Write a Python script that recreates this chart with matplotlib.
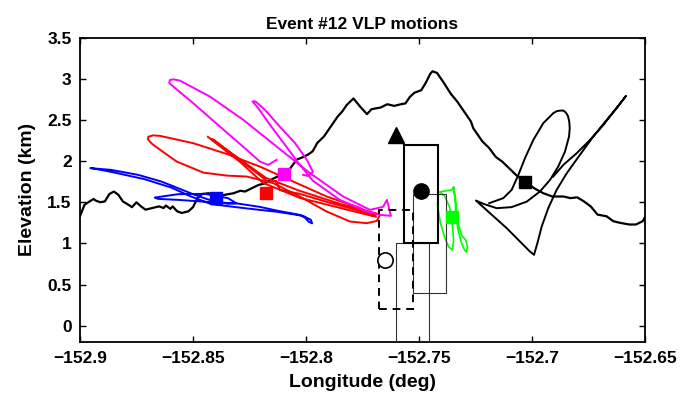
import numpy as np
import matplotlib
matplotlib.use("Agg")
import matplotlib.pyplot as plt
from matplotlib.patches import Rectangle

plt.rcParams["font.family"] = ["Liberation Sans", "DejaVu Sans"]
plt.rcParams["font.weight"] = "bold"

# ---------- Topography profile ----------
topo_lon = [-152.900, -152.898, -152.894, -152.893, -152.891, -152.889, -152.887, -152.885,
            -152.883, -152.881, -152.878, -152.877, -152.875, -152.873, -152.871, -152.868,
            -152.865, -152.863, -152.862, -152.860, -152.859, -152.857, -152.855, -152.852,
            -152.850, -152.848, -152.846, -152.843, -152.841, -152.839, -152.836, -152.832,
            -152.829, -152.827, -152.824, -152.821, -152.818, -152.815, -152.812, -152.807,
            -152.804, -152.802, -152.799, -152.797, -152.795, -152.792, -152.789, -152.786,
            -152.784, -152.782, -152.779, -152.776, -152.773, -152.771, -152.767, -152.764,
            -152.761, -152.758, -152.756, -152.754, -152.752, -152.749, -152.747, -152.745,
            -152.744, -152.742, -152.739, -152.736, -152.733, -152.730, -152.727, -152.726,
            -152.722, -152.719, -152.716, -152.713, -152.710, -152.707, -152.703, -152.699,
            -152.695, -152.691, -152.686, -152.683, -152.680, -152.677, -152.674, -152.671,
            -152.667, -152.664, -152.661, -152.657, -152.654, -152.651, -152.650]
topo_elev = [1.33, 1.47, 1.54, 1.52, 1.50, 1.51, 1.60, 1.63,
             1.59, 1.51, 1.46, 1.44, 1.50, 1.45, 1.41, 1.43,
             1.45, 1.43, 1.46, 1.42, 1.45, 1.39, 1.37, 1.39,
             1.44, 1.55, 1.60, 1.61, 1.58, 1.57, 1.59, 1.61,
             1.64, 1.63, 1.67, 1.71, 1.73, 1.78, 1.82, 1.91,
             2.02, 2.04, 2.08, 2.12, 2.22, 2.30, 2.42, 2.54,
             2.60, 2.68, 2.76, 2.66, 2.57, 2.63, 2.65, 2.69,
             2.67, 2.69, 2.70, 2.78, 2.83, 2.86, 2.95, 3.06,
             3.09, 3.07, 2.95, 2.82, 2.72, 2.60, 2.48, 2.40,
             2.24, 2.16, 2.05, 1.99, 1.91, 1.83, 1.75, 1.67,
             1.61, 1.57, 1.57, 1.55, 1.56, 1.51, 1.45, 1.35,
             1.33, 1.27, 1.25, 1.23, 1.23, 1.27, 1.32]

# ---------- VLP particle motions ----------
blue_lon = [-152.8953, -152.8862, -152.8743, -152.8640, -152.8566, -152.8492, -152.8419,
            -152.8345, -152.8308, -152.8345, -152.8448, -152.8566, -152.8669, -152.8655,
            -152.8566, -152.8419, -152.8308, -152.8204, -152.8124, -152.8027, -152.8004,
            -152.7987, -152.7973, -152.7978, -152.8013, -152.8124, -152.8271, -152.8419,
            -152.8508, -152.8596, -152.8714, -152.8862, -152.8951]
blue_elev = [1.914, 1.893, 1.833, 1.752, 1.671, 1.590, 1.521,
             1.481, 1.487, 1.550, 1.602, 1.598, 1.557, 1.541,
             1.529, 1.501, 1.487, 1.444, 1.396, 1.347, 1.311,
             1.262, 1.244, 1.286, 1.335, 1.383, 1.428, 1.477,
             1.569, 1.678, 1.780, 1.869, 1.915]

red_lon = [-152.8434, -152.8292, -152.8190, -152.8027, -152.7850, -152.7708, -152.7681,
           -152.7850, -152.8027, -152.8177, -152.8301, -152.8420, -152.8407, -152.8270,
           -152.8168, -152.8133, -152.8115, -152.8027, -152.7894, -152.7761, -152.7690,
           -152.7761, -152.7908, -152.8056, -152.8204, -152.8351, -152.8499, -152.8646,
           -152.8677, -152.8698, -152.8699, -152.8690, -152.8676, -152.8572, -152.8454,
           -152.8351, -152.8262, -152.8145, -152.8027, -152.7908, -152.7805, -152.7731,
           -152.7686, -152.7673]
red_elev = [2.294, 1.990, 1.735, 1.553, 1.432, 1.335, 1.359,
            1.481, 1.638, 1.796, 2.039, 2.269, 2.257, 1.966,
            1.748, 1.760, 1.650, 1.602, 1.493, 1.396, 1.323,
            1.432, 1.569, 1.751, 1.933, 2.087, 2.217, 2.306,
            2.312, 2.295, 2.265, 2.233, 2.197, 1.994, 1.860,
            1.824, 1.812, 1.732, 1.569, 1.387, 1.266, 1.246,
            1.274, 1.347]

magenta_lon = [-152.8130, -152.8167, -152.8204, -152.8262, -152.8381, -152.8499, -152.8587,
               -152.8605, -152.8602, -152.8585, -152.8558, -152.8425, -152.8277, -152.8130,
               -152.7982, -152.7835, -152.7717, -152.7659, -152.7642, -152.7624, -152.7673,
               -152.7726, -152.7850, -152.7969, -152.8027, -152.8093, -152.8159, -152.8212,
               -152.8236, -152.8230, -152.8221, -152.8181, -152.8115, -152.8049, -152.7996,
               -152.7969, -152.7991, -152.8013]
magenta_elev = [2.015, 1.954, 1.994, 2.136, 2.419, 2.703, 2.904,
                2.950, 2.985, 2.992, 2.977, 2.783, 2.500, 2.176,
                1.853, 1.569, 1.408, 1.444, 1.529, 1.335, 1.347,
                1.383, 1.529, 1.760, 1.954, 2.197, 2.439, 2.646,
                2.722, 2.728, 2.718, 2.621, 2.415, 2.221, 2.015,
                1.869, 1.820, 1.833]

green_lon = [-152.7414, -152.7418, -152.7405, -152.7387, -152.7369, -152.7352, -152.7347,
             -152.7352, -152.7365, -152.7387, -152.7409, -152.7356, -152.7347, -152.7338,
             -152.7338, -152.7325, -152.7312, -152.7299, -152.7290, -152.7285, -152.7294,
             -152.7312, -152.7325, -152.7334, -152.7343, -152.7347]
green_elev = [1.602, 1.456, 1.250, 1.080, 0.959, 0.922, 1.044,
              1.226, 1.444, 1.578, 1.626, 1.650, 1.687, 1.529,
              1.347, 1.141, 1.007, 0.922, 0.898, 0.959, 1.044,
              1.104, 1.226, 1.408, 1.590, 1.675]

black_lon = [-152.7189, -152.7127, -152.7090, -152.7060, -152.7031, -152.6994, -152.6950,
             -152.6906, -152.6891, -152.6876, -152.6861, -152.6850, -152.6841, -152.6835,
             -152.6833, -152.6836, -152.6854, -152.6884, -152.6920, -152.6965, -152.7023,
             -152.7090, -152.7156, -152.7215, -152.7248, -152.7186, -152.7112, -152.7053,
             -152.7009, -152.6991, -152.6976, -152.6957, -152.6928, -152.6891, -152.6846,
             -152.6788, -152.6729, -152.6669, -152.6625, -152.6584, -152.6633, -152.6684,
             -152.6743, -152.6802, -152.6861, -152.6906]
black_elev = [1.489, 1.550, 1.650, 1.833, 2.035, 2.257, 2.460,
              2.581, 2.605, 2.613, 2.613, 2.589, 2.549, 2.479,
              2.399, 2.297, 2.115, 1.933, 1.772, 1.630, 1.508,
              1.441, 1.428, 1.481, 1.521, 1.368, 1.186, 1.023,
              0.902, 0.862, 1.004, 1.205, 1.428, 1.650, 1.853,
              2.075, 2.297, 2.500, 2.642, 2.791, 2.621, 2.439,
              2.257, 2.096, 1.954, 1.812]

# source centroids (squares) for each station
sq_colors = ["blue", "red", "magenta", "lime", "black"]
sq_lon = [-152.8400, -152.8178, -152.8097, -152.7355, -152.7031]
sq_elev = [1.55, 1.618, 1.845, 1.326, 1.751]

# other symbols
tri_lon, tri_elev = -152.760, 2.32
dot_lon, dot_elev = -152.749, 1.64
ring_lon, ring_elev = -152.765, 0.80

# source boxes: left lon, right lon, bottom elev, top elev
thick_box = [-152.7565, -152.7415, 1.00, 2.20]
dash_box = [-152.7675, -152.7525, 0.20, 1.40]
thin_box1 = [-152.7602, -152.7454, -0.50, 1.00]
thin_box2 = [-152.7528, -152.7380, 0.40, 1.60]

# ---------- Plot ----------
fig = plt.figure(figsize=(6.93, 3.97), dpi=100)
ax = fig.add_axes([0.1154, 0.1378, 0.8153, 0.7677])

ax.plot(topo_lon, topo_elev, color="black", lw=1.6, zorder=2)

ax.plot(blue_lon, blue_elev, color="blue", lw=1.4, zorder=3)
ax.plot(red_lon, red_elev, color="red", lw=1.4, zorder=3)
ax.plot(magenta_lon, magenta_elev, color="magenta", lw=1.4, zorder=3)
ax.plot(green_lon, green_elev, color="lime", lw=1.2, zorder=3)
ax.plot(black_lon, black_elev, color="black", lw=1.4, zorder=3)


def draw_box(b, **kw):
    ax.add_patch(Rectangle((b[0], b[2]), b[1] - b[0], b[3] - b[2], fill=False, **kw))


draw_box(thin_box1, edgecolor="#333333", lw=0.8, zorder=4)
draw_box(thin_box2, edgecolor="#333333", lw=0.8, zorder=4)
draw_box(dash_box, edgecolor="black", lw=1.4, ls=(0, (4, 3)), zorder=4)
draw_box(thick_box, edgecolor="black", lw=1.5, zorder=4)

for c, x, y in zip(sq_colors, sq_lon, sq_elev):
    ax.plot(x, y, "s", color=c, ms=8.5, zorder=5)

ax.plot(tri_lon, tri_elev, "^", color="black", ms=11, zorder=5)
ax.plot(dot_lon, dot_elev, "o", color="black", ms=11, zorder=5)
ax.plot(ring_lon, ring_elev, "o", mfc="white", mec="black", mew=1.2, ms=11, zorder=5)

ax.set_xlim(-152.9, -152.65)
ax.set_ylim(-0.2, 3.5)
ax.set_xticks([-152.9, -152.85, -152.8, -152.75, -152.7, -152.65])
ax.set_xticklabels(["\u2212152.9", "\u2212152.85", "\u2212152.8", "\u2212152.75",
                    "\u2212152.7", "\u2212152.65"])
ax.set_yticks([0, 0.5, 1, 1.5, 2, 2.5, 3, 3.5])
ax.set_yticklabels(["0", "0.5", "1", "1.5", "2", "2.5", "3", "3.5"])
ax.tick_params(direction="in", length=4.5, width=1, top=True, right=True,
               labelsize=12.5, pad=6)
for s in ax.spines.values():
    s.set_linewidth(1.3)

ax.set_xlabel("Longitude (deg)", fontsize=14, fontweight="bold", labelpad=6)
ax.set_ylabel("Elevation (km)", fontsize=14, fontweight="bold", labelpad=8)
ax.set_title("Event #12 VLP motions", fontsize=12.5, fontweight="bold", pad=6)

fig.savefig("out.png", dpi=100)
